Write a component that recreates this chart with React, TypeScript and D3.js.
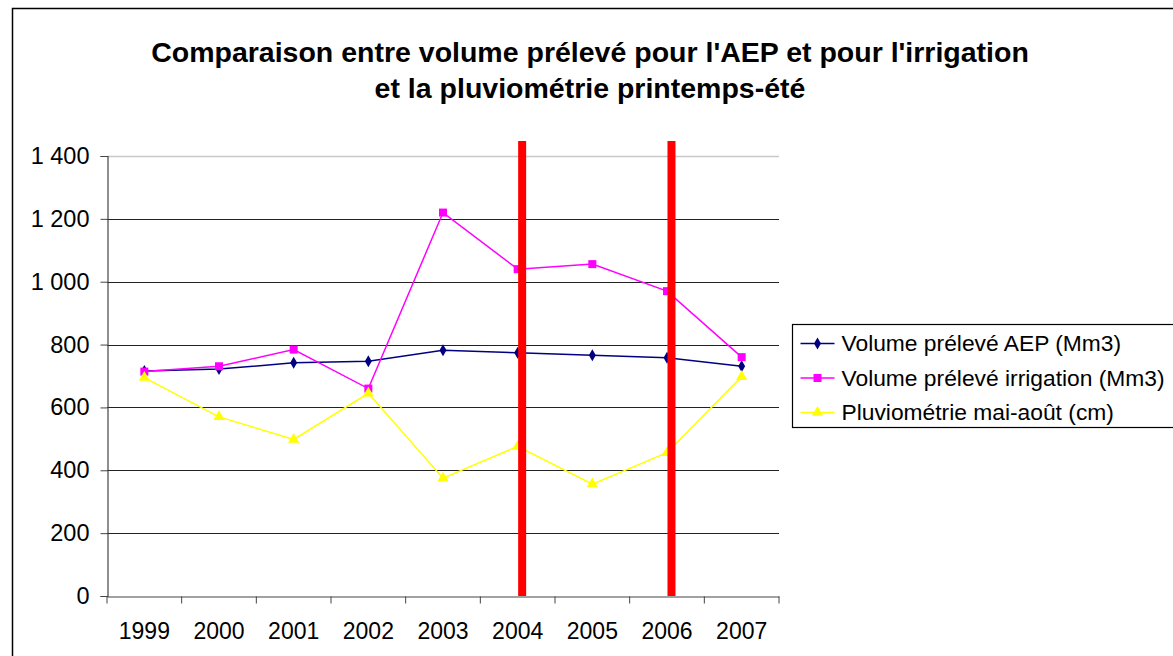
import React, { useEffect, useRef } from 'react';
import * as d3 from 'd3';

const years = ['1999', '2000', '2001', '2002', '2003', '2004', '2005', '2006', '2007'];
const aep = [716, 722, 742, 747, 782, 774, 766, 758, 731];
const irrigation = [714, 731, 784, 660, 1220, 1040, 1056, 970, 760];
const pluvio = [695, 570, 498, 645, 375, 476, 356, 456, 698];
const yTicks = [0, 200, 400, 600, 800, 1000, 1200, 1400];
const highlightYears = ['2004', '2006'];
const titleLines = [
  "Comparaison entre volume prélevé pour l'AEP et pour l'irrigation",
  'et la pluviométrie printemps-été',
];

const series = [
  { name: 'Volume prélevé AEP (Mm3)', values: aep, color: '#000080', symbol: d3.symbolDiamond, size: 42 },
  { name: 'Volume prélevé irrigation (Mm3)', values: irrigation, color: '#FF00FF', symbol: d3.symbolSquare, size: 64 },
  { name: 'Pluviométrie mai-août (cm)', values: pluvio, color: '#FFFF00', symbol: d3.symbolTriangle, size: 55 },
];

const FONT = 'Arial, "Liberation Sans", sans-serif';

export default function App() {
  const svgRef = useRef<SVGSVGElement>(null);

  useEffect(() => {
    document.body.style.margin = '0';
    const width = 1173;
    const height = 656;
    const svg = d3.select(svgRef.current).attr('width', width).attr('height', height).html(null);

    const x = d3.scaleBand().domain(years).range([107, 779]);
    const y = d3.scaleLinear().domain([0, 1400]).range([596, 156]);
    const center = (yr: string) => (x(yr) as number) + x.bandwidth() / 2;

    svg.append('rect').attr('width', width).attr('height', height).attr('fill', '#fff');

    // chart border
    svg.append('path')
      .attr('d', `M12.5,${height + 2}V8.5H${width + 5}`)
      .attr('fill', 'none')
      .attr('stroke', '#000')
      .attr('stroke-width', 1.5);

    // title
    svg.append('g')
      .selectAll('text')
      .data(titleLines)
      .join('text')
      .attr('x', 590)
      .attr('y', (d, i) => 62 + i * 36)
      .attr('text-anchor', 'middle')
      .attr('font-family', FONT)
      .attr('font-weight', 'bold')
      .attr('font-size', 28.5)
      .text((d) => d);

    // gridlines
    svg.append('g')
      .selectAll('line')
      .data(yTicks.filter((t) => t > 0))
      .join('line')
      .attr('x1', 107)
      .attr('x2', 779)
      .attr('y1', (d) => Math.round(y(d)) + 0.5)
      .attr('y2', (d) => Math.round(y(d)) + 0.5)
      .attr('stroke', (d) => (d === 1400 ? '#c8c8c8' : '#222'))
      .attr('stroke-width', (d) => (d === 1400 ? 1.5 : 1.2));

    // y axis
    const yAxis = svg.append('g')
      .attr('transform', 'translate(107.5,0)')
      .call(d3.axisLeft(y).tickValues(yTicks).tickSize(7).tickPadding(10)
        .tickFormat((d) => d3.format(',')(d as number).replace(',', ' ')));
    yAxis.select('.domain').attr('stroke', '#444').attr('stroke-width', 1.2);
    yAxis.selectAll('.tick line').attr('stroke', '#444');
    yAxis.selectAll('text').attr('font-family', FONT).attr('font-size', 23.5).attr('fill', '#000').attr('dx', -1);

    // x axis
    const xAxis = svg.append('g')
      .attr('transform', `translate(0,${Math.round(y(0)) + 0.5})`)
      .call(d3.axisBottom(x).tickSize(0).tickPadding(26));
    xAxis.select('.domain').attr('stroke', '#444').attr('stroke-width', 1.2);
    xAxis.selectAll('text').attr('font-family', FONT).attr('font-size', 23).attr('fill', '#000');
    xAxis.append('g')
      .selectAll('line')
      .data(years.concat(['end']))
      .join('line')
      .attr('x1', (d, i) => 107 + i * x.bandwidth())
      .attr('x2', (d, i) => 107 + i * x.bandwidth())
      .attr('y1', 0)
      .attr('y2', 7)
      .attr('stroke', '#444');

    // series
    const line = d3.line<number>().x((d, i) => center(years[i])).y((d) => y(d));
    series.forEach((s) => {
      const g = svg.append('g');
      g.append('path')
        .datum(s.values)
        .attr('d', line)
        .attr('fill', 'none')
        .attr('stroke', s.color)
        .attr('stroke-width', 1.5);
      g.selectAll('path.m')
        .data(s.values)
        .join('path')
        .attr('class', 'm')
        .attr('transform', (d, i) => `translate(${center(years[i])},${y(d)})`)
        .attr('d', d3.symbol(s.symbol, s.size))
        .attr('fill', s.color);
    });

    // red highlight bars
    svg.append('g')
      .selectAll('rect')
      .data(highlightYears)
      .join('rect')
      .attr('x', (d) => center(d) + x.bandwidth() * 0.06 - 4)
      .attr('y', 141)
      .attr('width', 8)
      .attr('height', y(0) - 141)
      .attr('fill', '#FF0000');

    // legend
    const legend = svg.append('g').attr('transform', 'translate(792.5,324.5)');
    legend.append('rect')
      .attr('width', 400)
      .attr('height', 103)
      .attr('fill', '#fff')
      .attr('stroke', '#000')
      .attr('stroke-width', 1.2);
    const item = legend.selectAll('g.item')
      .data(series)
      .join('g')
      .attr('class', 'item')
      .attr('transform', (d, i) => `translate(0,${19 + i * 34.5})`);
    item.append('line')
      .attr('x1', 8)
      .attr('x2', 42)
      .attr('stroke', (d) => d.color)
      .attr('stroke-width', 1.5);
    item.append('path')
      .attr('transform', 'translate(25,0)')
      .attr('d', (d) => d3.symbol(d.symbol, d.size)())
      .attr('fill', (d) => d.color);
    item.append('text')
      .attr('x', 49)
      .attr('dy', '0.35em')
      .attr('font-family', FONT)
      .attr('font-size', 22.8)
      .text((d) => d.name);
  }, []);

  return <svg ref={svgRef} style={{ display: 'block' }} />;
}
